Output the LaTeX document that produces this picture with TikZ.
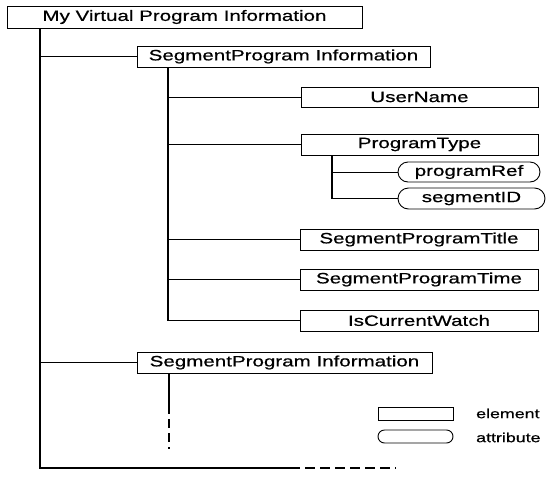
\documentclass[tikz,border=0pt]{standalone}
\usepackage{fontspec}
\setmainfont{Liberation Sans}[FakeStretch=1.37,FakeBold=0.6]
\usetikzlibrary{shapes.misc,shadows}
\begin{document}
\begin{tikzpicture}[x=1pt,y=-1pt,
  elem/.style={draw=black,line width=0.8pt,fill=white,rectangle,inner sep=0pt,
    minimum height=21pt,font=\fontsize{15}{17}\selectfont,
    drop shadow={shadow xshift=1pt,shadow yshift=-1pt,fill=black,opacity=1}},
  attr/.style={draw=black,line width=0.9pt,fill=white,rounded rectangle,inner sep=0pt,
    minimum height=20pt,font=\fontsize{15}{17}\selectfont},
  trunk/.style={line width=1.1pt},
  branch/.style={line width=0.7pt},
  dashtrunk/.style={line width=1.1pt,dash pattern=on 10pt off 5pt},
  legtext/.style={anchor=west,inner sep=0pt,font=\fontsize{13}{15}\selectfont}]
\useasboundingbox (0,0) rectangle (549,477);
\fill[white] (0,0) rectangle (549,477);

% nodes
\node[elem,minimum width=355pt,minimum height=22pt] (top) at (184.5,17) {My Virtual Program Information};
\node[elem,minimum width=293pt] (spi1) at (283.5,56.5) {SegmentProgram Information};
\node[elem,minimum width=237pt,minimum height=20pt] (user) at (419.5,97) {UserName};
\node[elem,minimum width=237pt] (ptype) at (419.5,144.5) {ProgramType};
\node[attr,minimum width=142pt] (pref) at (469,172) {programRef};
\node[attr,minimum width=147pt,minimum height=21pt] (segid) at (471.5,198.5) {segmentID};
\node[elem,minimum width=238pt] (spt) at (419,239.5) {SegmentProgramTitle};
\node[elem,minimum width=238pt] (sptime) at (419,279.5) {SegmentProgramTime};
\node[elem,minimum width=238pt] (icw) at (419,320.5) {IsCurrentWatch};
\node[elem,minimum width=295pt] (spi2) at (284.5,362.5) {SegmentProgram Information};

% legend
\node[elem,minimum width=75pt,minimum height=13pt,drop shadow={shadow xshift=0.8pt,shadow yshift=0pt,fill=black,opacity=1}] (legelem) at (415.5,413.5) {};
\node[attr,minimum width=75pt,minimum height=13pt] (legattr) at (415.5,436.5) {};
\node[legtext] (legelemtxt) at (476,413.5) {element};
\node[legtext] (legattrtxt) at (476,437.5) {attribute};

% junction coordinates
\coordinate (t0) at (top.south -| 40,0);
\coordinate (tend) at (40,468);
\coordinate (bsolid) at (290,468);
\coordinate (bdash) at (396,468);
\coordinate (s0) at (spi1.south -| 168,0);
\coordinate (s1) at (icw.west -| 168,0);
\coordinate (p0) at (ptype.south -| 332,0);
\coordinate (p1) at (segid.west -| 332,0);
\coordinate (q0) at (spi2.south -| 169,0);
\coordinate (q1) at (169,405);
\coordinate (q2) at (169,449);

% main trunk
\draw[trunk] (t0) -- (tend) -- (bsolid);
\draw[dashtrunk] (bsolid) -- (bdash);
\draw[branch] (spi1.west -| t0) -- (spi1.west);
\draw[branch] (spi2.west -| t0) -- (spi2.west);

% first segment subtree
\draw[trunk] (s0) -- (s1) -- (icw.west);
\draw[branch] (user.west -| s0) -- (user.west);
\draw[branch] (ptype.west -| s0) -- (ptype.west);
\draw[branch] (spt.west -| s0) -- (spt.west);
\draw[branch] (sptime.west -| s0) -- (sptime.west);

% attributes of ProgramType
\draw[trunk] (p0) -- (p1) -- (segid.west);
\draw[branch] (pref.west -| p0) -- (pref.west);

% second segment subtree
\draw[trunk] (q0) -- (q1);
\draw[dashtrunk,dash pattern=on 9pt off 5pt] (q1) -- (q2);
\end{tikzpicture}
\end{document}
